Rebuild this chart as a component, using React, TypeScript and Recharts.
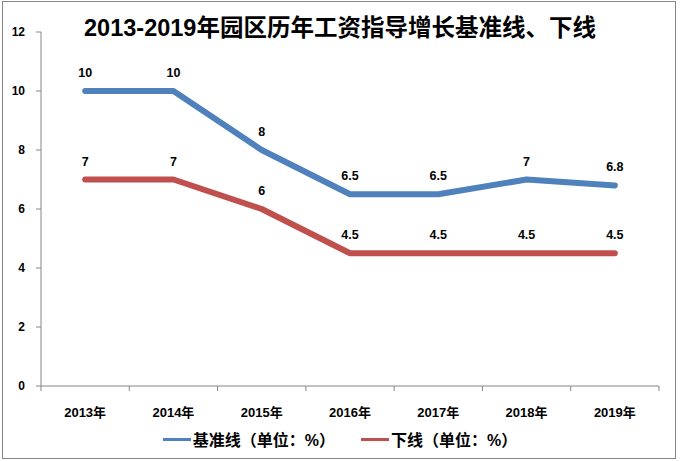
import { LineChart, Line, XAxis, YAxis, LabelList, Legend } from 'recharts'

const YEARS = ['2013年', '2014年', '2015年', '2016年', '2017年', '2018年', '2019年']
const BASE = [10, 10, 8, 6.5, 6.5, 7, 6.8]
const LOWER = [7, 7, 6, 4.5, 4.5, 4.5, 4.5]
const Y_TICKS = [0, 2, 4, 6, 8, 10, 12]

const SERIES = [
  { key: 'base', name: '基准线（单位：%）', color: '#4F81BD' },
  { key: 'lower', name: '下线（单位：%）', color: '#C0504D' },
]

const data = YEARS.map((year, i) => ({ year, base: BASE[i], lower: LOWER[i] }))

const FONT = '"Liberation Sans", "Noto Sans CJK SC", sans-serif'
const AXIS = '#868686'

// category ticks sit between the years, like the spreadsheet original
function YearTick(props: any) {
  const { x, y, payload, index } = props
  const half = payload.offset || 0
  return (
    <g>
      <line x1={x - half} x2={x - half} y1={y} y2={y + 5} stroke={AXIS} />
      {index === YEARS.length - 1 && <line x1={x + half} x2={x + half} y1={y} y2={y + 5} stroke={AXIS} />}
      <text x={x} y={y + 31} textAnchor="middle" fontSize={13} fontWeight="bold" fill="#000" fontFamily={FONT}>
        {payload.value}
      </text>
    </g>
  )
}

function renderLegend() {
  return (
    <div style={{ display: 'flex', justifyContent: 'center', gap: 26, fontFamily: FONT, fontSize: 16, fontWeight: 'bold' }}>
      {SERIES.map((s) => (
        <div key={s.key} style={{ display: 'flex', alignItems: 'center' }}>
          <span style={{ display: 'inline-block', width: 28, height: 3, background: s.color, marginRight: 2 }} />
          <span>{s.name}</span>
        </div>
      ))}
    </div>
  )
}

export default function App() {
  return (
    <div style={{ position: 'absolute', left: 0, top: 0, width: 680, height: 461, background: '#fff' }}>
      <div style={{ position: 'absolute', left: 2, top: 1, width: 672, height: 456, border: '1px solid #868686' }} />
      <div
        style={{
          position: 'absolute',
          left: 0,
          top: 14,
          width: 680,
          textAlign: 'center',
          fontFamily: FONT,
          fontSize: 23.5,
          fontWeight: 'bold',
          lineHeight: '28px',
        }}
      >
        2013-2019年园区历年工资指导增长基准线、下线
      </div>
      <div style={{ position: 'absolute', left: 0, top: 0 }}>
        <LineChart width={680} height={461} data={data} margin={{ top: 32, right: 21, left: 0, bottom: 45 }}>
          <XAxis
            dataKey="year"
            scale="band"
            height={30}
            stroke={AXIS}
            tickLine={false}
            tickSize={0}
            tickMargin={0}
            interval={0}
            tick={<YearTick />}
          />
          <YAxis
            width={41}
            domain={[0, 12]}
            ticks={Y_TICKS}
            stroke={AXIS}
            tickSize={5}
            tickMargin={11}
            tick={{ fill: '#000', fontSize: 12, fontWeight: 'bold', fontFamily: FONT }}
          />
          <Legend
            content={renderLegend}
            layout="horizontal"
            verticalAlign="middle"
            align="center"
            wrapperStyle={{ top: 427, left: 0, width: 680 }}
          />
          {SERIES.map((s) => (
            <Line
              key={s.key}
              dataKey={s.key}
              name={s.name}
              type="linear"
              stroke={s.color}
              strokeWidth={6}
              strokeLinecap="round"
              strokeLinejoin="round"
              dot={false}
              activeDot={false}
              isAnimationActive={false}
            >
              <LabelList dataKey={s.key} position="top" offset={14} fill="#000" fontSize={12.5} fontWeight="bold" fontFamily={FONT} />
            </Line>
          ))}
        </LineChart>
      </div>
    </div>
  )
}
